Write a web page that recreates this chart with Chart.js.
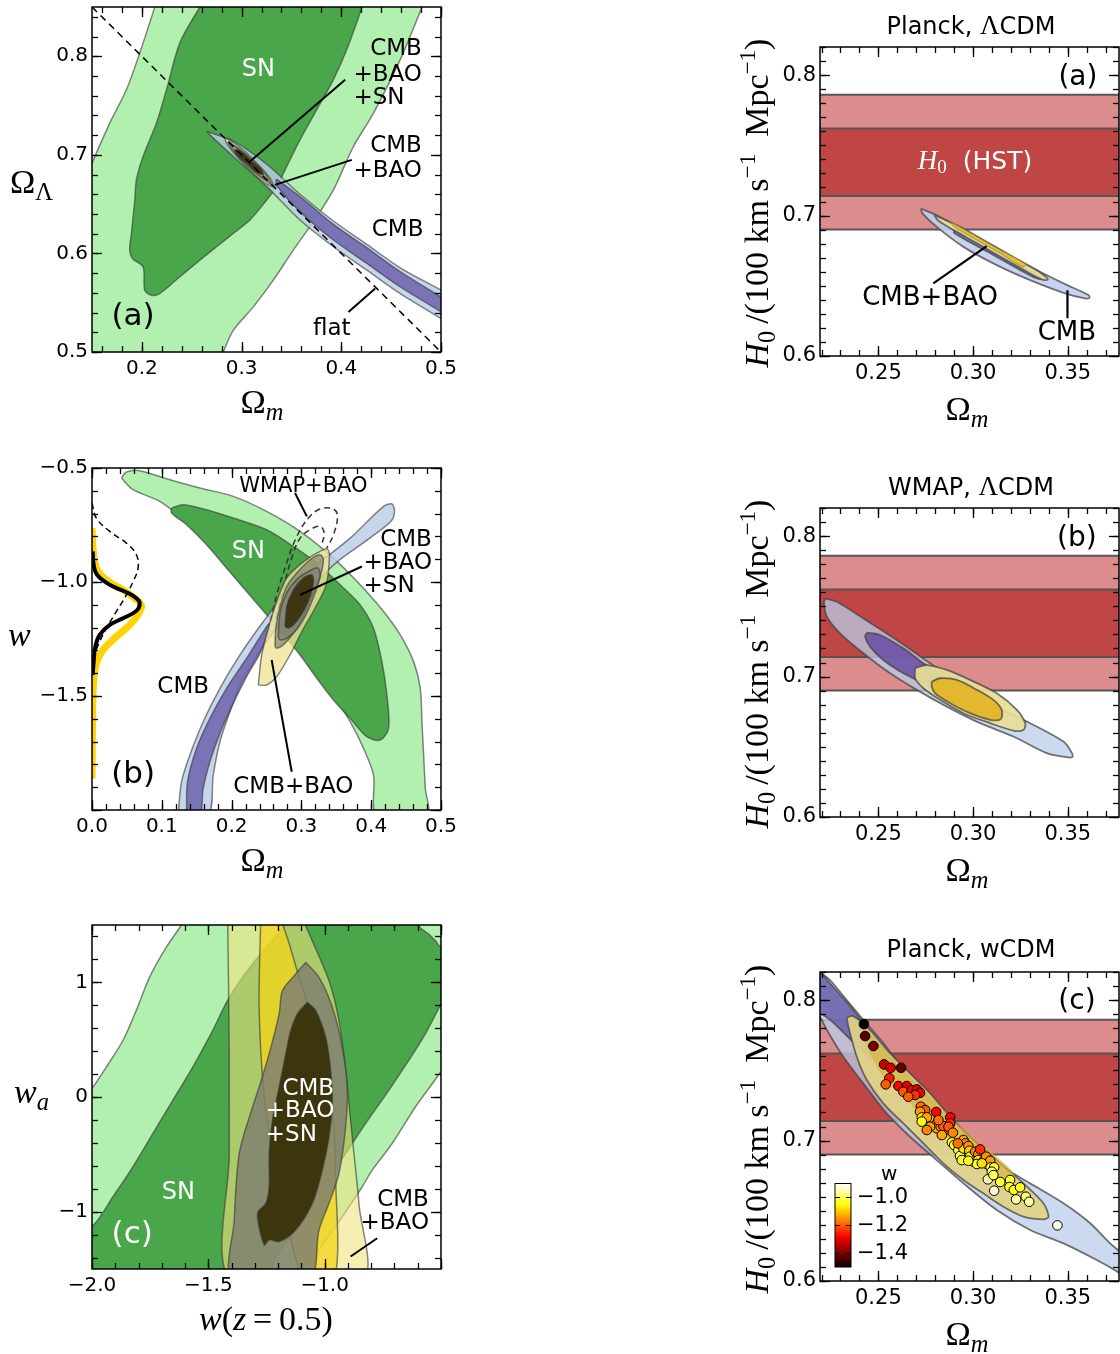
<!DOCTYPE html>
<html>
<head>
<meta charset="utf-8">
<script src="https://cdn.jsdelivr.net/npm/chart.js@4.4.0/dist/chart.umd.min.js"></script>
<style>
html, body { margin: 0; padding: 0; background: #fff; width: 1120px; height: 1354px; overflow: hidden; }
canvas { position: absolute; }
.mt { position: absolute; font-family: 'Liberation Serif', serif; font-size: 34px; color: #000; white-space: nowrap; line-height: 1; z-index: 5; }
.mt sub { font-size: 0.72em; vertical-align: -0.3em; }
.mt sup { font-size: 0.68em; vertical-align: 0.55em; }
.ctr { transform: translateX(-50%); }
.rot { transform: translate(-50%, -50%) rotate(-90deg); font-size: 34px; }
.ttl { position: absolute; font-family: 'DejaVu Sans', sans-serif; font-size: 24px; color: #000; white-space: nowrap; transform: translateX(-50%); line-height: 1; z-index: 5; }
.ttl span { font-family: 'Liberation Serif', serif; font-size: 27px; }
</style>
</head>
<body>

<div class="mt" style="left:10px;top:165px">Ω<sub>Λ</sub></div>
<div class="mt ctr" style="left:262px;top:385px">Ω<sub><i>m</i></sub></div>
<div class="mt" style="left:8px;top:618px"><i>w</i></div>
<div class="mt ctr" style="left:262px;top:843px">Ω<sub><i>m</i></sub></div>
<div class="mt" style="left:14px;top:1075px"><i>w</i><sub><i>a</i></sub></div>
<div class="mt ctr" style="left:266px;top:1302px"><i>w</i>(<i>z</i>&thinsp;=&thinsp;0.5)</div>

<div class="ttl" style="left:971px;top:12px">Planck, <span>Λ</span>CDM</div>
<div class="ttl" style="left:971px;top:473px">WMAP, <span>Λ</span>CDM</div>
<div class="ttl" style="left:971px;top:937px">Planck, wCDM</div>
<div class="mt rot" style="left:758px;top:203px"><i>H</i><sub>0</sub>&thinsp;/(100&nbsp;km&nbsp;s<sup>−1</sup>&nbsp;&nbsp;Mpc<sup>−1</sup>)</div>
<div class="mt rot" style="left:758px;top:664px"><i>H</i><sub>0</sub>&thinsp;/(100&nbsp;km&nbsp;s<sup>−1</sup>&nbsp;&nbsp;Mpc<sup>−1</sup>)</div>
<div class="mt rot" style="left:758px;top:1129px"><i>H</i><sub>0</sub>&thinsp;/(100&nbsp;km&nbsp;s<sup>−1</sup>&nbsp;&nbsp;Mpc<sup>−1</sup>)</div>
<div class="mt ctr" style="left:967px;top:392px">Ω<sub><i>m</i></sub></div>
<div class="mt ctr" style="left:967px;top:853px">Ω<sub><i>m</i></sub></div>
<div class="mt ctr" style="left:967px;top:1317px">Ω<sub><i>m</i></sub></div>

<script>
// ---------- left (a): Omega_m vs Omega_Lambda ----------
const aSN2 = [[0.14,0.49],[0.14,0.665],[0.15,0.6915],[0.1678,0.7322],[0.1845,0.766],[0.1979,0.8034],[0.213,0.85],[0.216,0.86],
  [0.484,0.86],[0.481,0.85],[0.4591,0.7966],[0.4323,0.7424],[0.4122,0.7085],[0.3921,0.6644],[0.3754,0.6373],[0.3519,0.6034],
  [0.3318,0.5729],[0.3118,0.5458],[0.2917,0.522],[0.2816,0.5],[0.278,0.49]];
const aSN1 = [[0.2582,0.8502],[0.2381,0.8136],[0.2247,0.7661],[0.2146,0.7322],[0.2012,0.6983],[0.1945,0.6746],[0.1929,0.6542],
  [0.1895,0.6203],[0.1878,0.6034],[0.1905,0.5949],[0.2012,0.5864],[0.2029,0.5627],[0.2096,0.5576],[0.218,0.5593],[0.2381,0.5763],
  [0.2582,0.5932],[0.2749,0.6068],[0.2917,0.6203],[0.3084,0.6339],[0.3252,0.6542],[0.3352,0.6678],[0.3452,0.6881],[0.3586,0.7153],
  [0.3754,0.7458],[0.3921,0.7763],[0.4055,0.8068],[0.4189,0.8441],[0.4206,0.85],[0.423,0.86],[0.262,0.86]];
const aCMB2 = [[0.2649,0.7237],[0.2917,0.7142],[0.3252,0.6905],[0.3586,0.66],[0.3921,0.6329],[0.4256,0.6092],[0.4591,0.5854],
  [0.5,0.5627],[0.51,0.556],[0.51,0.526],[0.5,0.5339],[0.4591,0.5593],[0.4256,0.5831],[0.3921,0.6068],[0.3586,0.6339],
  [0.3252,0.6678],[0.2917,0.6983],[0.2682,0.7203]];
const aCMB1 = [[0.335,0.6755],[0.36,0.6565],[0.3921,0.6295],[0.4256,0.6058],[0.4591,0.5815],[0.5,0.5559],[0.51,0.55],
  [0.51,0.534],[0.5,0.5407],[0.4591,0.5661],[0.4256,0.5898],[0.3921,0.6136],[0.36,0.641],[0.335,0.669]];
const aBAO2 = [[0.333,0.667],[0.3283,0.6767],[0.312,0.695],[0.2937,0.7113],[0.284,0.716],[0.2887,0.7063],[0.305,0.688],[0.3233,0.6717]];
const aBAO1 = [[0.3269,0.6731],[0.323,0.68],[0.3106,0.6936],[0.297,0.706],[0.2901,0.7099],[0.294,0.703],[0.3064,0.6894],[0.32,0.677]];
const aALL2 = [[0.3303,0.6698],[0.326,0.6782],[0.3113,0.6944],[0.293,0.7091],[0.2867,0.7134],[0.291,0.705],[0.3057,0.6888],[0.324,0.6742]];
const aALL1 = [[0.3219,0.6798],[0.3196,0.6853],[0.3095,0.6943],[0.2994,0.7033],[0.2934,0.7052],[0.2958,0.6997],[0.3059,0.6907],[0.316,0.6817]];
const aFlat = [[0.15,0.85],[0.5,0.5]];
const aPtrAll = [[0.4039,0.7763],[0.3084,0.6932]];
const aPtrBao = [[0.4106,0.6949],[0.3335,0.6695]];
const aPtrFlat = [[0.4072,0.5407],[0.434,0.5644]];
const aXTicks = [0.2, 0.3, 0.4, 0.5], aXLabels = ['0.2', '0.3', '0.4', '0.5'];
const aYTicks = [0.5, 0.6, 0.7, 0.8], aYLabels = ['0.5', '0.6', '0.7', '0.8'];

// ---------- left (b): Omega_m vs w ----------
const bSN2 = [[0.0421,-0.5439],[0.0493,-0.5176],[0.0684,-0.5117],[0.1067,-0.5469],[0.1545,-0.5878],[0.2024,-0.6245],[0.2502,-0.6903],
  [0.2981,-0.7782],[0.3459,-0.8953],[0.3842,-1.0124],[0.4177,-1.1296],[0.4416,-1.2321],[0.4608,-1.3492],[0.4703,-1.4663],
  [0.4727,-1.6127],[0.4751,-1.7591],[0.4775,-1.9056],[0.4799,-2.02],[0.4081,-2.02],[0.4033,-1.847],[0.389,-1.7299],[0.3699,-1.6127],
  [0.3459,-1.4956],[0.322,-1.3785],[0.2981,-1.2613],[0.2742,-1.1442],[0.2455,-1.0271],[0.212,-0.9246],[0.1737,-0.8221],
  [0.1354,-0.7343],[0.0971,-0.6464],[0.0589,-0.5952]];
const bSN1 = [[0.1139,-0.6757],[0.1306,-0.661],[0.1641,-0.683],[0.2024,-0.7196],[0.2502,-0.7709],[0.2885,-0.8441],[0.322,-0.9173],
  [0.3555,-1.0124],[0.3842,-1.1003],[0.4033,-1.2028],[0.4153,-1.3492],[0.4225,-1.4956],[0.4249,-1.642],[0.4129,-1.6933],
  [0.3938,-1.6786],[0.3699,-1.5981],[0.3459,-1.5176],[0.322,-1.4224],[0.2981,-1.3199],[0.2742,-1.2321],[0.2502,-1.1442],
  [0.2215,-1.0417],[0.1928,-0.9392],[0.1641,-0.8367],[0.1354,-0.7489],[0.1139,-0.6977]];
const bCMB2 = [[0.1234,-2.02],[0.1282,-1.8763],[0.1402,-1.7591],[0.1593,-1.6127],[0.1833,-1.4663],[0.212,-1.3199],[0.2455,-1.1735],
  [0.2789,-1.0417],[0.322,-0.9246],[0.3699,-0.8075],[0.4177,-0.6684],[0.4297,-0.6581],[0.4335,-0.6903],[0.428,-0.735],
  [0.397,-0.81],[0.35,-0.915],[0.312,-1.03],[0.2810,-1.14],[0.255,-1.2394],[0.2311,-1.3492],[0.212,-1.4517],
  [0.1976,-1.5688],[0.1833,-1.7006],[0.1737,-1.847],[0.1665,-2.02]];
const bCMB1 = [[0.1354,-2.02],[0.1368,-1.8763],[0.1498,-1.7299],[0.1689,-1.5981],[0.1928,-1.4663],[0.2215,-1.3345],[0.2455,-1.2174],
  [0.2541,-1.1808],[0.2526,-1.2174],[0.2407,-1.3126],[0.2215,-1.4151],[0.2024,-1.5322],[0.1833,-1.664],[0.1689,-1.7884],
  [0.1593,-1.9056],[0.1545,-2.02]];
const bWmapOuter = [[0.256,-1.1735],[0.2646,-1.0564],[0.278,-0.9246],[0.2923,-0.8075],[0.31,-0.7196],[0.3268,-0.6801],
  [0.3459,-0.6801],[0.3517,-0.7123],[0.3459,-0.7928],[0.3364,-0.8514]];
const bWmapInner = [[0.2636,-1.1589],[0.2742,-1.0271],[0.2861,-0.8953],[0.2981,-0.8075],[0.3124,-0.7709],[0.3268,-0.7562],
  [0.3325,-0.7855],[0.3292,-0.8367]];
const bBAO2 = [[0.2383,-1.4517],[0.2431,-1.3199],[0.2526,-1.2028],[0.2646,-1.0856],[0.2789,-0.9832],[0.3005,-0.9173],[0.322,-0.8734],
  [0.3364,-0.8543],[0.3402,-0.8807],[0.3354,-1.0124],[0.3196,-1.1149],[0.3005,-1.2174],[0.2837,-1.3199],[0.2646,-1.4151],[0.2502,-1.4517]];
const bALL2 = [[0.2622,-1.2831],[0.2636,-1.1953],[0.2694,-1.1075],[0.279,-1.0197],[0.2933,-0.961],[0.3124,-0.9025],[0.3268,-0.8806],
  [0.3315,-0.9025],[0.3268,-0.9759],[0.3149,-1.0637],[0.3028,-1.1514],[0.2885,-1.2243],[0.2741,-1.2757],[0.2646,-1.2902]];
const bALLm = [[0.2669,-1.2392],[0.2694,-1.1366],[0.279,-1.0487],[0.2956,-0.9829],[0.3149,-0.9464],[0.3243,-0.939],[0.3268,-0.9759],
  [0.3196,-1.0487],[0.3077,-1.1366],[0.2933,-1.2098],[0.279,-1.2463],[0.2694,-1.2537]];
const bALL1 = [[0.2766,-1.1953],[0.279,-1.1075],[0.2885,-1.0342],[0.3028,-0.9829],[0.3149,-0.9684],[0.3172,-1.0048],[0.3124,-1.0637],
  [0.3028,-1.1295],[0.2909,-1.1804],[0.2813,-1.2024]];
const bPdfAll = [[0,-0.7635],[0.0014,-0.8514],[0.0062,-0.9392],[0.0206,-0.9905],[0.0445,-1.0344],[0.0612,-1.071],[0.0708,-1.1003],
  [0.0684,-1.1296],[0.0565,-1.1808],[0.0349,-1.2394],[0.0158,-1.298],[0.0062,-1.3565],[0.0024,-1.437],[0.001,-1.5542],[0,-1.8616]];
const bPdfBao = [[0.001,-0.866],[0.0024,-0.9246],[0.0072,-0.9685],[0.0254,-1.0124],[0.0493,-1.0447],[0.0636,-1.071],[0.0684,-1.093],
  [0.0636,-1.1266],[0.0445,-1.1589],[0.0254,-1.1881],[0.011,-1.2321],[0.0048,-1.2833],[0.0024,-1.3492],[0.001,-1.4078]];
const bPdfWmap = [[0,-0.6537],[0.0062,-0.7196],[0.0254,-0.7782],[0.0493,-0.8294],[0.0636,-0.8807],[0.066,-0.9392],[0.0589,-0.9978],
  [0.0493,-1.0564],[0.0349,-1.1296],[0.0206,-1.2028],[0.011,-1.2613],[0.0053,-1.3053],[0.0014,-1.3492],[0,-1.3785]];
const bPtrWmap = [[0.2909,-0.6098],[0.3077,-0.7123]];
const bPtrAll = [[0.3866,-0.9319],[0.2981,-1.0564]];
const bPtrBao = [[0.2861,-1.8323],[0.2574,-1.3419]];
const bXTicks = [0.0, 0.1, 0.2, 0.3, 0.4, 0.5], bXLabels = ['0.0', '0.1', '0.2', '0.3', '0.4', '0.5'];
const bYTicks = [-2.0, -1.5, -1.0, -0.5], bYLabels = ['', '−1.5', '−1.0', '−0.5'];

// ---------- left (c): w(z=0.5) vs w_a ----------
const cSN2 = [[-2.1,-1.65],[-2.1,-0.15],[-2.067,-0.116],[-2.0,0.0725],[-1.9386,0.2609],[-1.8671,0.4928],[-1.81,0.7536],
  [-1.7529,1.0435],[-1.6814,1.3043],[-1.6171,1.4957],[-1.5814,1.6232],[-0.4,1.6232],[-0.4243,0.4638],[-0.5071,0.2029],
  [-0.61,-0.087],[-0.71,-0.4058],[-0.7957,-0.6377],[-0.8386,-0.7826],[-0.9243,-1.0435],[-1.0243,-1.3333],[-1.0814,-1.4957],[-1.1243,-1.6232]];
const cSN1 = [[-2.1,-1.65],[-2.1,-1.2],[-2.0,-1.1304],[-1.91,-0.8696],[-1.8243,-0.6087],[-1.7386,-0.3188],[-1.6529,-0.029],
  [-1.5671,0.2609],[-1.4814,0.5797],[-1.41,0.8696],[-1.31,1.1594],[-1.1671,1.5072],[-1.1243,1.6232],[-0.58,1.6232],
  [-0.5957,1.4957],[-0.5529,1.4203],[-0.5243,1.3623],[-0.5071,1.3188],[-0.46,1.25],[-0.46,0.95],[-0.5071,0.7826],
  [-0.5671,0.5507],[-0.6386,0.3188],[-0.7243,0.058],[-0.8243,-0.2319],[-0.8814,-0.4058],[-0.9671,-0.6667],[-1.0529,-0.9275],
  [-1.1386,-1.1884],[-1.2171,-1.4203],[-1.2529,-1.65]];
const cBAO2 = [[-1.4171,1.6],[-1.41,0.3768],[-1.41,-0.4928],[-1.4029,-1.6],[-0.8386,-1.6],[-0.8529,-0.9275],[-0.8743,-0.4928],
  [-0.8886,-0.2029],[-0.91,0.2319],[-0.9386,0.6667],[-0.9814,1.0145],[-1.0814,1.4928],[-1.1029,1.6]];
const cBAO1 = [[-1.2743,1.6],[-1.2814,0.7536],[-1.2529,-0.1159],[-1.1814,-0.8406],[-1.0886,-1.6],[-0.96,-1.6],[-0.9529,-0.6957],
  [-0.9671,-0.1159],[-1.0243,0.4638],[-1.11,1.0435],[-1.2029,1.6]];
const cALL2 = [[-1.0814,1.1739],[-1.0243,1.0435],[-0.9671,0.7826],[-0.9243,0.4348],[-0.9029,0.087],[-0.91,-0.2609],[-0.9386,-0.6667],
  [-0.9814,-0.9275],[-1.0243,-1.1594],[-1.0671,-1.6],[-1.3957,-1.6],[-1.3886,-1.0725],[-1.3671,-0.4928],[-1.31,-0.087],
  [-1.2814,0.087],[-1.2386,0.3768],[-1.1957,0.7246],[-1.1814,0.9275],[-1.1243,1.0725]];
const cALL1 = [[-1.0743,0.8261],[-1.0386,0.7536],[-0.9957,0.5217],[-0.9743,0.2319],[-0.9671,-0.058],[-0.9814,-0.3478],
  [-1.01,-0.6377],[-1.0529,-0.9275],[-1.1243,-1.1594],[-1.1957,-1.2609],[-1.2386,-1.2464],[-1.26,-1.2899],[-1.2886,-1.0145],
  [-1.2529,-0.9275],[-1.2386,-0.7826],[-1.2386,-0.4928],[-1.2243,-0.2029],[-1.1957,0.087],[-1.1671,0.3768],[-1.1457,0.5797],[-1.1171,0.7246]];
const cPtrBao = [[-0.7743,-1.2319],[-0.8886,-1.3913]];
const cXTicks = [-2.0, -1.5, -1.0, -0.5], cXLabels = ['−2.0', '−1.5', '−1.0', ''];
const cYTicks = [-1, 0, 1], cYLabels = ['−1', '0', '1'];

// ---------- right column: Omega_m vs H0 ----------
const hstOuter = [0.690, 0.786];
const hstInner = [0.714, 0.762];
const rXTicks = [0.25, 0.30, 0.35], rXLabels = ['0.25', '0.30', '0.35'];
const rYTicks = [0.6, 0.7, 0.8], rYLabels = ['0.6', '0.7', '0.8'];

const pCMB2 = [[0.2724,0.705],[0.2808,0.7002],[0.2949,0.6896],[0.3125,0.6765],[0.3301,0.6635],[0.3477,0.6517],[0.3609,0.6434],
  [0.3614,0.6414],[0.3591,0.641],[0.3477,0.645],[0.3301,0.654],[0.3125,0.6647],[0.2949,0.6777],[0.2808,0.6919],[0.2734,0.7014]];
const pCMB1 = [[0.29,0.6905],[0.31,0.6755],[0.333,0.6585],[0.338,0.655],[0.333,0.6555],[0.31,0.6725],[0.29,0.6875]];
const pBAO2 = [[0.2795,0.7005],[0.295,0.6906],[0.31,0.6791],[0.325,0.6676],[0.336,0.659],[0.3395,0.6545],[0.336,0.6545],
  [0.325,0.6626],[0.31,0.6741],[0.295,0.6856],[0.2815,0.6965]];
const pBAO1 = [[0.288,0.6955],[0.3,0.6865],[0.315,0.675],[0.328,0.6652],[0.326,0.6635],[0.315,0.6726],[0.3,0.6841],[0.2895,0.6925]];
const pPtrBao = [[0.279,0.6517],[0.3072,0.6782]];
const pPtrCmb = [[0.3498,0.6469],[0.3498,0.6268]];

const wCMB2 = [[0.2219,0.7556],[0.228,0.7532],[0.2421,0.7414],[0.2597,0.726],[0.2773,0.7094],[0.2949,0.6928],[0.3125,0.6786],
  [0.3301,0.6668],[0.3477,0.6537],[0.3512,0.6478],[0.3526,0.6431],[0.3503,0.6424],[0.3389,0.6455],[0.3213,0.6573],[0.3037,0.6668],
  [0.2861,0.6786],[0.2703,0.6905],[0.2562,0.7023],[0.2421,0.7166],[0.2298,0.7308],[0.2228,0.7426],[0.2213,0.7521]];
const wCMB1 = [[0.2439,0.7312],[0.2509,0.7296],[0.2632,0.7201],[0.2738,0.7094],[0.2843,0.6999],[0.2914,0.6905],[0.2843,0.6881],
  [0.2738,0.6952],[0.2632,0.7023],[0.2526,0.7118],[0.2456,0.7213],[0.243,0.7284]];
const wBAO2 = [[0.2694,0.7059],[0.2756,0.7082],[0.2861,0.7047],[0.2984,0.6976],[0.3125,0.6881],[0.3231,0.6763],[0.3275,0.6668],
  [0.3266,0.662],[0.3213,0.6615],[0.309,0.6668],[0.2949,0.6739],[0.2826,0.6834],[0.2738,0.6917],[0.2694,0.6988]];
const wBAO1 = [[0.2782,0.6964],[0.2826,0.6988],[0.2914,0.6976],[0.302,0.6905],[0.3107,0.6834],[0.3151,0.6763],[0.3146,0.6697],
  [0.309,0.6692],[0.2984,0.6739],[0.2879,0.681],[0.2799,0.6881],[0.2782,0.6928]];

const dCMB2 = [[0.21,0.835],[0.2192,0.8202],[0.2245,0.8142],[0.2333,0.8],[0.2421,0.7858],[0.2526,0.7694],[0.2632,0.7502],
  [0.2738,0.7312],[0.2861,0.7122],[0.2984,0.698],[0.3125,0.6838],[0.3301,0.6695],[0.3477,0.6553],[0.3618,0.6411],[0.3723,0.6268],
  [0.3785,0.6197],[0.39,0.605],[0.39,0.595],[0.3776,0.6055],[0.3653,0.6149],[0.3477,0.6268],[0.3301,0.6363],[0.3125,0.6505],
  [0.2949,0.6695],[0.2808,0.6861],[0.2667,0.7027],[0.2544,0.7193],[0.2421,0.7407],[0.2315,0.7597],[0.2228,0.7787],
  [0.2192,0.7882],[0.21,0.805]];
const dCMB1 = [[0.21,0.835],[0.2245,0.812],[0.2333,0.7985],[0.2421,0.784],[0.2526,0.766],[0.26,0.752],[0.2585,0.748],[0.2475,0.757],
  [0.236,0.771],[0.2245,0.786],[0.21,0.8]];
const dBAO2 = [[0.2333,0.7877],[0.2368,0.7886],[0.2456,0.7787],[0.2562,0.7621],[0.2667,0.7478],[0.2773,0.7336],[0.2879,0.7169],
  [0.2984,0.7027],[0.3125,0.6861],[0.3266,0.6695],[0.3371,0.6553],[0.3398,0.6458],[0.3371,0.6439],[0.3266,0.6458],[0.316,0.6529],
  [0.3054,0.6624],[0.2949,0.6719],[0.2843,0.6838],[0.2738,0.698],[0.2632,0.7122],[0.2526,0.7265],[0.2439,0.7431],[0.2386,0.7597],[0.2342,0.781]];
const dBAO1 = [[0.2421,0.781],[0.2509,0.7692],[0.2597,0.7549],[0.2703,0.7407],[0.2808,0.7265],[0.2914,0.7122],[0.302,0.7004],
  [0.3125,0.6885],[0.3213,0.6767],[0.3195,0.6695],[0.309,0.679],[0.2984,0.6885],[0.2861,0.7027],[0.2738,0.7169],[0.2632,0.7312],
  [0.2526,0.7454],[0.2456,0.7621],[0.2421,0.7763]];

// wCDM chain samples: Omega_m, H0/100, w
const chainOm = [0.2424,0.243,0.2474,0.253,0.2565,0.262,0.2558,0.2539,0.2606,0.265,0.2632,0.2676,0.2703,0.272,0.2694,0.2658,
  0.2724,0.2747,0.272,0.2729,0.2756,0.2805,0.2729,0.2805,0.2808,0.2829,0.2857,0.2843,0.2879,0.2879,0.287,0.2835,0.2893,0.2888,
  0.29,0.2922,0.2931,0.2949,0.2959,0.2949,0.2975,0.298,0.2984,0.3011,0.3002,0.3028,0.3028,0.3037,0.302,0.3058,0.3069,0.3072,
  0.309,0.3093,0.3111,0.3099,0.3078,0.3107,0.3143,0.3111,0.3195,0.3192,0.3215,0.3248,0.3227,0.3278,0.3296,0.3445,0.294,0.2975,
  0.2773,0.2756,0.2817,0.2919,0.3046];
const chainH0 = [0.7829,0.7744,0.7673,0.7542,0.7518,0.7518,0.7443,0.74,0.7388,0.7388,0.7347,0.7359,0.7364,0.734,0.7324,0.7312,
  0.7241,0.7217,0.7205,0.7165,0.7165,0.7203,0.7135,0.7117,0.7087,0.7098,0.708,0.7103,0.7165,0.7122,0.7098,0.7039,0.7056,0.6987,
  0.6968,0.6932,0.689,0.7004,0.698,0.6944,0.6961,0.6927,0.6885,0.692,0.6849,0.6904,0.6861,0.6937,0.6833,0.6861,0.6885,0.6833,
  0.6856,0.6809,0.6809,0.6778,0.6724,0.6754,0.6705,0.6643,0.6719,0.6669,0.6648,0.6667,0.6581,0.66,0.6564,0.6396,0.6861,0.6856,
  0.7098,0.7075,0.7146,0.698,0.6838];
const chainW = [-1.5,-1.43,-1.4,-1.33,-1.31,-1.42,-1.26,-1.2,-1.28,-1.3,-1.2,-1.28,-1.3,-1.29,-1.24,-1.2,
  -1.18,-1.2,-1.14,-1.08,-1.13,-1.28,-1.04,-1.15,-1.13,-1.16,-1.17,-1.2,-1.28,-1.25,-1.2,-1.13,-1.16,-1.05,
  -1.03,-1.02,-1.0,-1.14,-1.16,-1.08,-1.15,-1.1,-1.04,-1.16,-1.02,-1.14,-1.07,-1.24,-1.02,-1.1,-1.15,-1.05,
  -1.14,-1.04,-1.03,-0.96,-0.94,-1.0,-1.02,-0.92,-1.02,-1.03,-1.05,-1.03,-0.96,-0.98,-0.96,-0.91,-1.02,-1.03,
  -1.14,-1.16,-1.18,-1.18,-1.08];
const cbRange = [-1.5, -0.9];
const cbTicks = [-1.0, -1.2, -1.4], cbLabels = ['−1.0', '−1.2', '−1.4'];

// ---------- styles ----------
const EDGE = 'rgba(55,55,55,0.6)';
const COL = {
  sn2: '#b1f0ae', sn1: '#4aa64a',
  cmb2: 'rgba(186,206,232,0.82)', cmb1: 'rgba(108,98,172,0.85)',
  bao2: 'rgba(240,228,150,0.78)', bao1: 'rgba(240,205,25,0.72)',
  all2: 'rgba(115,115,100,0.6)', allm: 'rgba(120,120,112,0.6)', all1: 'rgba(58,50,14,0.95)',
  hst2: '#dc8c8c', hst1: '#c04545'
};
const SANS = '"DejaVu Sans", sans-serif';

const pts = a => a.map(p => ({x: p[0], y: p[1]}));
const closed = a => pts(a.concat([a[0]]));

function area(a, fill, opts) {
  return Object.assign({data: closed(a), showLine: true, fill: 'shape', backgroundColor: fill,
    borderColor: EDGE, borderWidth: 1.5, pointRadius: 0, tension: 0.3}, opts || {});
}
function line(a, color, width, dash) {
  return {data: pts(a), showLine: true, fill: false, borderColor: color, borderWidth: width,
    borderDash: dash || [], pointRadius: 0, tension: 0};
}
function curve(a, color, width, dash) {
  return Object.assign(line(a, color, width, dash), {tension: 0.4});
}
function band(lim) {
  return [[0.2, lim[0]], [0.4, lim[0]], [0.4, lim[1]], [0.2, lim[1]]];
}

function hot(v) {
  const t = Math.max(0, Math.min(1, (v - cbRange[0]) / (cbRange[1] - cbRange[0])));
  const r = t < 0.365 ? 0.0416 + 0.9584 * t / 0.365 : 1;
  const g = t < 0.365 ? 0 : t < 0.746 ? (t - 0.365) / 0.381 : 1;
  const b = t < 0.746 ? 0 : (t - 0.746) / 0.254;
  return `rgb(${Math.round(r * 255)},${Math.round(g * 255)},${Math.round(b * 255)})`;
}

function minorList(min, max, step) {
  const out = [];
  for (let k = Math.ceil(min / step - 1e-6); k * step <= max + 1e-9; k++) out.push(k * step);
  return out;
}

// inward ticks on all four sides plus the frame
const frameTicks = {
  id: 'frameTicks',
  afterDraw(chart, args, o) {
    const {ctx, chartArea: a, scales: {x, y}} = chart;
    ctx.save();
    ctx.strokeStyle = '#000';
    ctx.lineWidth = 1.3;
    const seg = (x1, y1, x2, y2) => { ctx.beginPath(); ctx.moveTo(x1, y1); ctx.lineTo(x2, y2); ctx.stroke(); };
    const mark = (scale, vals, len) => vals.forEach(v => {
      if (v < scale.min - 1e-9 || v > scale.max + 1e-9) return;
      const p = Math.round(scale.getPixelForValue(v)) + 0.5;
      if (scale.isHorizontal()) { seg(p, a.bottom, p, a.bottom - len); seg(p, a.top, p, a.top + len); }
      else { seg(a.left, p, a.left + len, p); seg(a.right, p, a.right - len, p); }
    });
    mark(x, minorList(x.min, x.max, o.xMinor), 6);
    mark(y, minorList(y.min, y.max, o.yMinor), 6);
    mark(x, o.xMajor, 10);
    mark(y, o.yMajor, 10);
    ctx.lineWidth = 1.5;
    ctx.strokeRect(a.left, a.top, a.right - a.left, a.bottom - a.top);
    ctx.restore();
  }
};

// text annotations placed at data coordinates
const textMarks = {
  id: 'textMarks',
  afterDatasetsDraw(chart, args, o) {
    const {ctx, scales: {x, y}} = chart;
    (o.items || []).forEach(it => {
      ctx.save();
      ctx.fillStyle = it.color || '#000';
      ctx.textBaseline = 'middle';
      ctx.textAlign = 'left';
      const runs = it.runs || [{t: it.text, font: (it.size || 23) + 'px ' + SANS}];
      let w = 0;
      runs.forEach(r => { ctx.font = r.font; w += ctx.measureText(r.t).width; });
      const px = x.getPixelForValue(it.x), py = y.getPixelForValue(it.y);
      let cx = it.align === 'left' ? px : px - w / 2;
      runs.forEach(r => { ctx.font = r.font; ctx.fillText(r.t, cx, py + (r.dy || 0)); cx += ctx.measureText(r.t).width; });
      ctx.restore();
    });
  }
};

// colour bar inset for the wCDM panel
const colorBar = {
  id: 'colorBar',
  afterDraw(chart, args, o) {
    if (!o.show) return;
    const {ctx, chartArea: a} = chart;
    const bx = a.left + 15, by = a.top + 211.5, bw = 16, bh = 83.5;
    const pos = v => by + (cbRange[1] - v) / (cbRange[1] - cbRange[0]) * bh;
    ctx.save();
    const g = ctx.createLinearGradient(0, by + bh, 0, by);
    for (let i = 0; i <= 20; i++) g.addColorStop(i / 20, hot(cbRange[0] + (cbRange[1] - cbRange[0]) * i / 20));
    ctx.fillStyle = g;
    ctx.fillRect(bx, by, bw, bh);
    ctx.strokeStyle = '#000';
    ctx.lineWidth = 1;
    ctx.strokeRect(bx, by, bw, bh);
    ctx.fillStyle = '#000';
    ctx.font = '21px ' + SANS;
    ctx.textBaseline = 'middle';
    cbTicks.forEach((v, i) => {
      const p = Math.round(pos(v)) + 0.5;
      ctx.beginPath(); ctx.moveTo(bx, p); ctx.lineTo(bx + 5, p); ctx.moveTo(bx + bw, p); ctx.lineTo(bx + bw - 5, p); ctx.stroke();
      ctx.fillText(cbLabels[i], bx + bw + 6, p);
    });
    ctx.font = '20px ' + SANS;
    ctx.fillText('w', bx + 46, by - 9);
    ctx.restore();
  }
};

function makePanel(box, xr, yr, xt, yt, datasets, items, extra) {
  const ML = 80, MT = 28, MR = 30, MB = 40;
  const cv = document.createElement('canvas');
  cv.width = ML + box.w + MR;
  cv.height = MT + box.h + MB;
  cv.style.left = (box.x - ML) + 'px';
  cv.style.top = (box.y - MT) + 'px';
  document.body.appendChild(cv);
  datasets.forEach((d, i) => { d.order = datasets.length - i; });
  const tickFont = {family: 'DejaVu Sans', size: xr.font || 20};
  new Chart(cv, {
    type: 'scatter',
    data: {datasets},
    plugins: [frameTicks, textMarks, colorBar],
    options: {
      responsive: false, animation: false, devicePixelRatio: 1, events: [],
      layout: {padding: {left: 0, top: MT, right: MR, bottom: 0}},
      plugins: {
        legend: {display: false}, tooltip: {enabled: false},
        frameTicks: {xMajor: xt[0], yMajor: yt[0], xMinor: xr.minor, yMinor: yr.minor},
        textMarks: {items},
        colorBar: {show: !!(extra && extra.colorBar)}
      },
      scales: {
        x: {
          type: 'linear', min: xr.min, max: xr.max,
          grid: {display: false, drawTicks: false}, border: {display: false},
          afterBuildTicks: s => { s.ticks = xt[0].map(v => ({value: v})); },
          afterFit: s => { s.height = MB; },
          ticks: {autoSkip: false, maxRotation: 0, padding: 5, color: '#000', font: tickFont,
            callback: (v, i) => xt[1][i]}
        },
        y: {
          type: 'linear', min: yr.min, max: yr.max,
          grid: {display: false, drawTicks: false}, border: {display: false},
          afterBuildTicks: s => { s.ticks = yt[0].map(v => ({value: v})); },
          afterFit: s => { s.width = ML; },
          ticks: {autoSkip: false, padding: 4, color: '#000', font: tickFont,
            callback: (v, i) => yt[1][i]}
        }
      }
    }
  });
}

const W = '#fff';
const L = (x, y, text, o) => Object.assign({x, y, text}, o || {});

// left (a)
makePanel({x: 92, y: 7, w: 349, h: 345}, {min: 0.15, max: 0.5, minor: 0.02}, {min: 0.5, max: 0.85, minor: 0.02},
  [aXTicks, aXLabels], [aYTicks, aYLabels],
  [area(aSN2, COL.sn2), area(aSN1, COL.sn1), area(aCMB2, COL.cmb2), area(aCMB1, COL.cmb1),
   area(aBAO2, COL.bao2, {tension: 0.4}), area(aBAO1, COL.bao1, {tension: 0.4}),
   area(aALL2, 'rgba(150,150,130,0.85)', {tension: 0.4}), area(aALL1, COL.all1, {tension: 0.4}),
   line(aFlat, '#000', 1.5, [7, 5]),
   line(aPtrAll, '#000', 2), line(aPtrBao, '#000', 2), line(aPtrFlat, '#000', 2)],
  [L(0.3168, 0.7864, 'SN', {color: W, size: 24}),
   L(0.429, 0.8075, 'CMB', {align: 'left'}), L(0.4122, 0.7814, '+BAO', {align: 'left'}), L(0.4122, 0.7576, '+SN', {align: 'left'}),
   L(0.429, 0.7085, 'CMB', {align: 'left'}), L(0.4122, 0.6831, '+BAO', {align: 'left'}),
   L(0.4306, 0.6237, 'CMB', {align: 'left'}), L(0.3905, 0.5237, 'flat'),
   L(0.1912, 0.5356, '(a)', {size: 31})]);

// left (b)
makePanel({x: 92, y: 468, w: 349, h: 342}, {min: 0, max: 0.5, minor: 0.02}, {min: -2.0, max: -0.5, minor: 0.1},
  [bXTicks, bXLabels], [bYTicks, bYLabels],
  [area(bSN2, COL.sn2), area(bSN1, COL.sn1), area(bCMB2, COL.cmb2), area(bCMB1, COL.cmb1),
   curve(bWmapOuter, '#333', 1.5, [6, 4]), curve(bWmapInner, '#333', 1.5, [6, 4]),
   area(bBAO2, COL.bao2), area(bALL2, COL.all2), area(bALLm, COL.allm), area(bALL1, COL.all1),
   curve(bPdfAll, '#ffd200', 7), curve(bPdfBao, '#000', 4), curve(bPdfWmap, '#000', 1.5, [6, 4]),
   line(bPtrWmap, '#000', 2), line(bPtrAll, '#000', 2), line(bPtrBao, '#000', 2)],
  [L(0.3028, -0.5808, 'WMAP+BAO', {size: 21}), L(0.2239, -0.866, 'SN', {color: W, size: 24}),
   L(0.4129, -0.8148, 'CMB', {align: 'left'}), L(0.389, -0.9173, '+BAO', {align: 'left'}), L(0.389, -1.0198, '+SN', {align: 'left'}),
   L(0.1306, -1.459, 'CMB'), L(0.2885, -1.8982, 'CMB+BAO'), L(0.0589, -1.847, '(b)', {size: 31})]);

// left (c)
makePanel({x: 92, y: 925, w: 349, h: 344}, {min: -2.0, max: -0.5, minor: 0.1}, {min: -1.5, max: 1.5, minor: 0.2},
  [cXTicks, cXLabels], [cYTicks, cYLabels],
  [area(cSN2, COL.sn2), area(cSN1, COL.sn1), area(cBAO2, 'rgba(240,228,130,0.6)'), area(cBAO1, 'rgba(245,212,20,0.72)'),
   area(cALL2, 'rgba(128,128,112,0.84)'), area(cALL1, 'rgba(58,52,10,0.97)'),
   line(cPtrBao, '#000', 2)],
  [L(-1.6286, -0.8348, 'SN', {color: W, size: 24}), L(-1.8271, -1.2029, '(c)', {color: W, size: 31}),
   L(-1.1814, 0.0725, 'CMB', {align: 'left', color: W}), L(-1.2529, -0.1246, '+BAO', {align: 'left', color: W}),
   L(-1.2529, -0.3275, '+SN', {align: 'left', color: W}),
   L(-0.7743, -0.8986, 'CMB', {align: 'left'}), L(-0.8457, -1.1014, '+BAO', {align: 'left'})]);

// right column
const RX = {min: 0.2192, max: 0.377, minor: 0.01, font: 21};
const RY = {min: 0.6, max: 0.82, minor: 0.01};
const hstSets = () => [area(band(hstOuter), COL.hst2, {borderColor: '#555', borderWidth: 2, tension: 0}),
  area(band(hstInner), COL.hst1, {borderColor: '#555', borderWidth: 2, tension: 0})];
const REDGE = {borderColor: 'rgba(70,70,70,0.75)', borderWidth: 1.8};
const hstLabel = [{t: 'H', font: 'italic 27px "Liberation Serif", serif'}, {t: '0', font: '19px "Liberation Serif", serif', dy: 6},
  {t: '  (HST)', font: '25px ' + SANS}];

makePanel({x: 820, y: 47, w: 299, h: 309}, RX, RY, [rXTicks, rXLabels], [rYTicks, rYLabels],
  hstSets().concat([area(pCMB2, 'rgba(195,205,238,0.9)', REDGE), area(pCMB1, 'rgba(120,110,160,0.8)', REDGE),
    area(pBAO2, 'rgba(232,222,150,0.92)', REDGE), area(pBAO1, 'rgba(228,188,40,0.92)', {borderColor: 'rgba(120,110,60,0.6)', borderWidth: 1}),
    line(pPtrBao, '#000', 2.2), line(pPtrCmb, '#000', 2.2)]),
  [{x: 0.301, y: 0.738, runs: hstLabel, color: W}, L(0.3553, 0.798, '(a)', {size: 28}),
   L(0.2773, 0.641, 'CMB+BAO', {size: 26}), L(0.3495, 0.6161, 'CMB', {size: 26})]);

makePanel({x: 820, y: 508, w: 299, h: 309}, RX, RY, [rXTicks, rXLabels], [rYTicks, rYLabels],
  hstSets().concat([area(wCMB2, 'rgba(186,206,234,0.75)', REDGE), area(wCMB1, 'rgba(100,70,160,0.8)', REDGE),
    area(wBAO2, 'rgba(232,222,150,0.92)', REDGE), area(wBAO1, 'rgba(228,182,40,0.95)', REDGE)]),
  [L(0.3548, 0.7983, '(b)', {size: 28})]);

const chainSet = {data: chainOm.map((v, i) => ({x: v, y: chainH0[i]})), showLine: false, pointRadius: 4.8,
  pointBorderWidth: 1, pointBorderColor: '#000', pointBackgroundColor: chainW.map(hot)};
makePanel({x: 820, y: 972, w: 299, h: 309}, RX, RY, [rXTicks, rXLabels], [rYTicks, rYLabels],
  hstSets().concat([area(dCMB2, 'rgba(186,206,234,0.75)', REDGE), area(dCMB1, 'rgba(105,95,170,0.85)', REDGE),
    area(dBAO2, 'rgba(225,210,135,0.92)', REDGE), area(dBAO1, 'rgba(212,178,55,0.65)', {borderWidth: 0}), chainSet]),
  [L(0.3548, 0.7988, '(c)', {size: 28})], {colorBar: true});
</script>
</body>
</html>
